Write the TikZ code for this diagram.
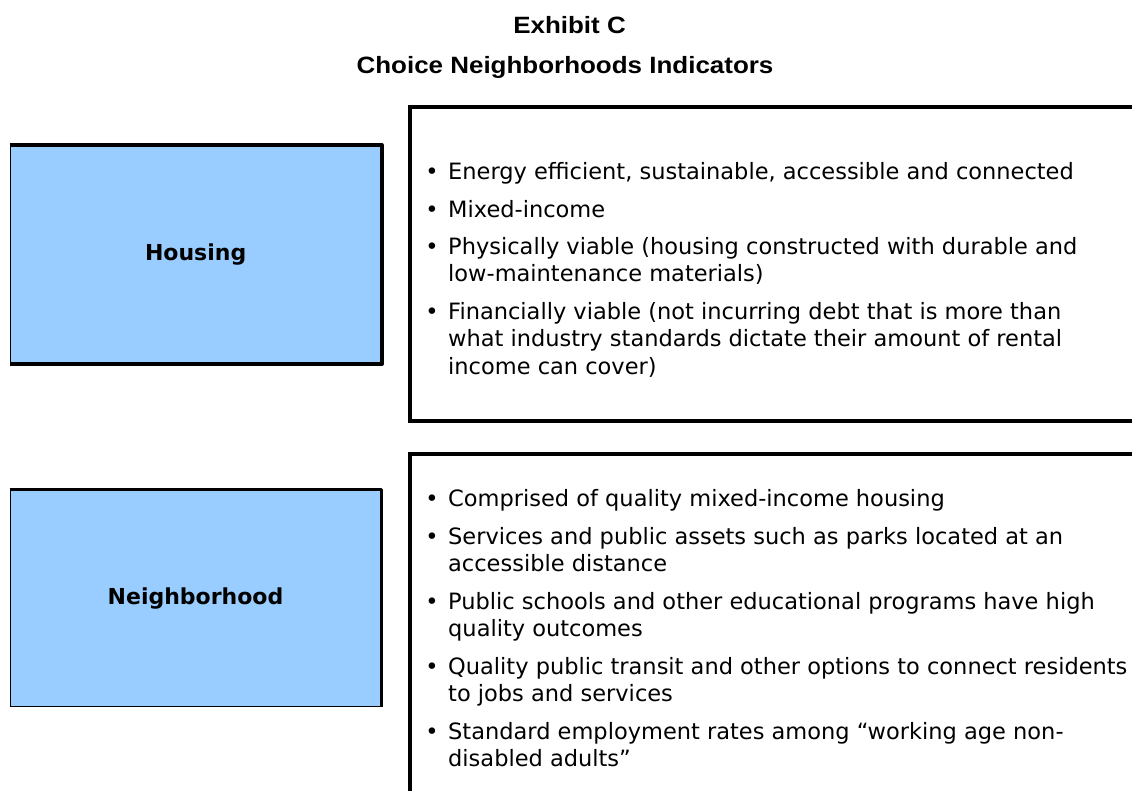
\documentclass[tikz,border=0pt]{standalone}
\usepackage{fontspec}
\setmainfont{DejaVu Sans}
\newfontfamily\titlefont[FakeStretch=1.1]{Liberation Sans}
\definecolor{boxblue}{HTML}{99CCFF}
\tikzset{
  title/.style={anchor=base, inner sep=0pt, font=\titlefont\bfseries\fontsize{23.6}{26}\selectfont},
  body/.style={anchor=base west, inner sep=0pt, font=\fontsize{22.5}{27}\selectfont},
  bul/.style={anchor=base, inner sep=0pt, font=\fontsize{22.5}{27}\selectfont},
  bluebox/.style={draw=black, line width=0.8pt, fill=boxblue, rectangle, inner sep=0pt,
     font=\bfseries\fontsize{22}{26}\selectfont},
  shadowline/.style={draw=black, line width=3.8pt, line join=round, line cap=butt},
  frame/.style={draw=black, line width=4pt, rectangle, inner sep=0pt, anchor=north west},
}
\begin{document}
\begin{tikzpicture}[x=1pt,y=-1pt]
\useasboundingbox (0,0) rectangle (1132,790);
\clip (0,0) rectangle (1132,790);
\fill[white] (0,0) rectangle (1132,790);

% titles
\node[title] (t1) at (569.5,33.5) {Exhibit C};
\node[title] (t2) at (565,73.5) {Choice Neighborhoods Indicators};

% right frames (open to the right / bottom)
\node[frame, minimum width=760pt, minimum height=314.3pt] (hf) at (408,104.7) {};
\node[frame, minimum width=760pt, minimum height=400pt] (nf) at (408,451.7) {};

% Housing box
\node[bluebox, minimum width=371.3pt, minimum height=218.5pt] (hb) at (195.65,254.55) {Housing};
\draw[shadowline] (hb.north west) -- (hb.north east) -- (hb.south east) -- (hb.south west);

% Neighborhood box
\node[bluebox, minimum width=371pt, minimum height=216.7pt] (nb) at (195.5,598.35) {Neighborhood};
\draw[shadowline, line width=3.4pt] (nb.north west) -- (nb.north east) -- (nb.south east);

% Housing bullets
\node[bul] (hb1) at (432,179) {•};
\node[body] (h1) at (448,179) {Energy efficient, sustainable, accessible and connected};
\node[bul] (hb2) at (432,217) {•};
\node[body] (h2) at (448,217) {Mixed-income};
\node[bul] (hb3) at (432,254) {•};
\node[body] (h3a) at (448,254) {Physically viable (housing constructed with durable and};
\node[body] (h3b) at (448,281) {low-maintenance materials)};
\node[bul] (hb4) at (432,319) {•};
\node[body] (h4a) at (448,319) {Financially viable (not incurring debt that is more than};
\node[body] (h4b) at (448,346) {what industry standards dictate their amount of rental};
\node[body] (h4c) at (448,374) {income can cover)};

% Neighborhood bullets
\node[bul] (nb1) at (432,506) {•};
\node[body] (n1) at (448,506) {Comprised of quality mixed-income housing};
\node[bul] (nb2) at (432,544) {•};
\node[body] (n2a) at (448,544) {Services and public assets such as parks located at an};
\node[body] (n2b) at (448,571) {accessible distance};
\node[bul] (nb3) at (432,609) {•};
\node[body] (n3a) at (448,609) {Public schools and other educational programs have high};
\node[body] (n3b) at (448,636) {quality outcomes};
\node[bul] (nb4) at (432,674) {•};
\node[body] (n4a) at (448,674) {Quality public transit and other options to connect residents};
\node[body] (n4b) at (448,701) {to jobs and services};
\node[bul] (nb5) at (432,739) {•};
\node[body] (n5a) at (448,739) {Standard employment rates among “working age non-};
\node[body] (n5b) at (448,766) {disabled adults”};
\end{tikzpicture}
\end{document}
